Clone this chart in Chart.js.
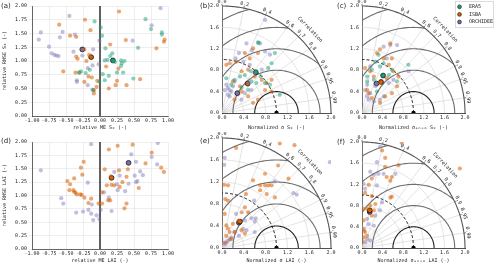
<!DOCTYPE html>
<html>
<head>
<meta charset="utf-8">
<script src="https://cdn.jsdelivr.net/npm/chart.js@4.4.1/dist/chart.umd.min.js"></script>
<style>
  body { margin: 0; background: #fff; width: 500px; height: 267px; position: relative; overflow: hidden; }
  canvas { position: absolute; }
  .lab { position: absolute; font: 7px/7px "DejaVu Sans", sans-serif; color: #222; }
</style>
</head>
<body>
<canvas id="ca" width="182" height="134" style="left:0;top:0"></canvas>
<canvas id="cd" width="182" height="135" style="left:0;top:132px"></canvas>
<canvas id="cb" width="172" height="134" style="left:165px;top:0"></canvas>
<canvas id="ce" width="172" height="135" style="left:165px;top:132px"></canvas>
<canvas id="cc" width="170" height="134" style="left:330px;top:0"></canvas>
<canvas id="cf" width="170" height="135" style="left:330px;top:132px"></canvas>
<div class="lab" style="left:1px;top:3px">(a)</div>
<div class="lab" style="left:200px;top:3px">(b)</div>
<div class="lab" style="left:337px;top:3px">(c)</div>
<div class="lab" style="left:1px;top:138px">(d)</div>
<div class="lab" style="left:200px;top:138px">(e)</div>
<div class="lab" style="left:337px;top:139px">(f)</div>
<script>
// ---- data: [x, y] pairs ----
const models = ['ERA5', 'ISBA', 'ORCHIDEE'];

// (a) relative ME / relative RMSE, S0
const aEra5 = [[-0.08,1.72],[0.01,1.61],[0.03,1.46],[0.08,1.23],[0.18,1.14],[0.11,1.02],[0.15,1.09],[0.20,1.00],[0.22,0.98],[0.31,1.01],[0.32,0.96],[0.36,1.00],[0.31,0.91],[0.34,0.79],[0.25,0.79],[0.13,0.73],[0.04,0.76],[0.07,0.65],[-0.01,0.62],[-0.21,0.78],[-0.28,0.81],[-0.31,0.79],[-0.15,0.84],[-0.10,0.47],[0.49,0.68],[0.56,1.24],[0.67,1.76],[0.75,1.58],[0.91,1.52],[0.91,1.48],[0.07,1.01]];
const aIsba = [[-0.60,1.66],[-0.44,1.46],[-0.35,1.44],[-0.22,1.75],[-0.14,1.56],[-0.23,1.21],[-0.35,1.08],[-0.33,1.04],[-0.16,1.11],[-0.20,1.00],[-0.54,0.81],[-0.36,0.79],[-0.30,0.79],[-0.23,0.62],[-0.17,0.72],[-0.12,0.70],[-0.04,0.64],[-0.05,0.53],[-0.09,0.47],[-0.09,0.41],[0.28,1.90],[0.15,1.30],[0.38,1.38],[0.09,0.90],[0.27,0.86],[0.25,0.64],[0.23,0.56],[0.39,0.56],[0.59,0.67],[0.95,1.39],[0.94,1.35],[0.83,1.23],[0.13,0.50]];
const aOrch = [[-0.45,1.82],[-0.90,1.39],[-0.87,1.52],[-0.55,1.53],[-0.59,1.43],[-0.37,1.48],[-0.75,1.26],[-0.71,1.14],[-0.67,1.11],[-0.64,1.10],[-0.61,1.09],[-0.39,1.17],[-0.26,1.10],[-0.10,1.21],[-0.01,1.37],[-0.02,0.94],[-0.11,0.92],[-0.34,0.65],[-0.34,0.62],[-0.18,0.56],[-0.11,0.48],[-0.18,0.87],[0.48,1.37],[0.89,1.96],[0.76,1.65]];
const aMean = [[0.19,1.01],[-0.13,1.07],[-0.26,1.21]];

// (d) relative ME / relative RMSE, LAI
const dIsba = [[-0.48,1.27],[-0.44,1.21],[-0.45,1.10],[-0.39,1.10],[-0.38,1.07],[-0.36,1.05],[-0.34,1.02],[-0.38,1.32],[-0.29,1.02],[-0.27,1.01],[-0.23,0.96],[-0.28,1.52],[-0.24,1.63],[-0.26,1.39],[-0.17,0.86],[-0.13,0.94],[-0.02,0.85],[0.03,1.06],[0.03,0.85],[0.07,1.49],[0.12,0.91],[0.13,1.86],[0.15,0.91],[0.16,1.36],[0.17,1.20],[0.21,1.19],[0.10,1.19],[0.26,1.93],[0.29,1.16],[0.28,1.47],[0.33,1.25],[0.36,0.76],[0.39,0.85],[0.41,1.49],[0.39,1.35],[0.48,1.95],[0.57,1.14],[0.67,1.60],[0.76,1.80],[0.90,1.52],[0.94,1.44]];
const dOrch = [[-0.87,1.47],[-0.57,0.95],[-0.54,0.85],[-0.35,0.68],[-0.25,0.70],[-0.18,1.24],[-0.17,0.73],[-0.13,0.66],[-0.12,0.83],[-0.10,0.54],[-0.05,0.63],[-0.01,0.56],[0.01,0.73],[-0.13,1.96],[0.06,1.06],[0.13,0.96],[0.17,0.71],[0.21,1.44],[0.25,1.21],[0.26,1.10],[0.29,1.37],[0.37,1.08],[0.42,1.22],[0.46,1.77],[0.53,1.63],[0.51,1.37],[0.53,1.25],[0.55,1.27],[0.59,1.45],[0.63,1.38],[0.76,1.72],[0.85,1.98],[0.84,1.58]];
const dMean = [null,[0.17,1.33],[0.42,1.61]];

// (b) Taylor, S0 (x, y in normalized std units)
const bEra5 = [[0.66,1.32],[0.67,1.31],[0.85,0.84],[0.91,0.93],[0.97,1.12],[0.63,0.78],[0.71,0.68],[0.53,0.78],[0.23,0.62],[0.33,0.68],[0.42,0.71],[0.17,0.53],[0.54,0.59],[0.63,0.56],[0.79,0.56],[0.88,0.53],[1.06,0.34],[0.48,0.43],[0.36,0.47],[0.08,0.65]];
const bIsba = [[0.08,0.90],[0.14,0.93],[0.26,0.96],[0.42,1.12],[0.57,1.21],[0.51,1.02],[0.66,1.12],[0.60,0.68],[0.73,0.62],[0.82,0.56],[0.91,0.62],[0.48,0.81],[0.36,0.78],[0.33,0.50],[0.36,0.40],[0.48,0.31],[0.57,0.19],[0.66,0.25],[0.23,0.25],[0.20,0.59],[0.91,0.40],[0.79,0.43]];
const bOrch = [[0.79,1.74],[0.45,1.30],[0.70,1.30],[0.79,1.15],[0.88,1.09],[0.55,1.17],[0.31,1.12],[0.25,1.02],[0.39,0.96],[0.51,0.90],[0.60,0.75],[0.73,0.81],[0.08,0.53],[0.11,0.47],[0.14,0.43],[0.17,0.40],[0.11,0.34],[0.20,0.50],[0.05,0.43],[0.14,0.31],[0.23,0.59],[0.36,0.25],[0.42,0.37],[0.54,0.43],[0.48,0.56]];
const bMean = [[0.62,0.76],[0.47,0.55],[0.28,0.37]];

// (c) Taylor, S0 anomalies
const cEra5 = [[0.32,1.09],[0.42,0.93],[0.35,0.87],[0.26,0.96],[0.19,0.81],[0.10,0.68],[0.23,0.62],[0.10,0.59],[0.58,0.81],[0.90,0.90],[0.52,0.71],[0.68,0.59],[0.29,0.40]];
const cIsba = [[0.55,1.30],[0.35,1.19],[0.29,1.12],[0.06,0.84],[0.16,0.78],[0.42,1.02],[0.58,1.02],[0.52,0.90],[0.71,0.68],[0.68,0.50],[0.58,0.37],[0.45,0.31],[0.35,0.19],[0.19,0.28],[0.10,0.43],[0.13,0.37],[0.35,0.56],[0.48,0.65],[0.61,0.78],[0.23,0.68]];
const cOrch = [[0.68,1.27],[0.55,1.27],[0.42,1.24],[0.48,1.02],[0.90,0.78],[0.16,0.87],[0.10,0.53],[0.06,0.43],[0.10,0.31],[0.13,0.25],[0.23,0.22],[0.35,0.25],[0.52,0.56],[0.61,0.62],[0.42,0.31],[0.16,0.37],[0.26,0.50]];
const cMean = [[0.41,0.70],[0.37,0.58],[0.28,0.55]];

// (e) Taylor, LAI
const eIsba = [[0.26,1.82],[1.06,1.90],[1.33,1.87],[0.04,1.15],[0.11,1.14],[0.06,0.89],[0.11,0.86],[0.44,0.98],[0.57,1.23],[0.70,1.14],[0.79,1.14],[0.70,1.05],[0.85,1.14],[0.91,1.14],[0.82,0.98],[0.97,0.92],[1.22,1.26],[0.79,1.35],[1.03,1.50],[0.42,0.74],[0.48,0.65],[0.36,0.65],[0.30,0.50],[0.20,0.44],[0.14,0.29],[0.08,0.22],[0.17,0.16],[0.23,0.29],[0.36,0.32],[0.42,0.26],[0.05,0.62],[0.08,0.41],[0.11,0.35],[0.05,0.10]];
const eOrch = [[0.05,1.64],[0.04,1.51],[0.97,1.21],[1.31,1.00],[1.37,0.97],[0.59,0.86],[0.54,0.54],[0.62,0.54],[0.60,0.48],[0.45,0.32],[0.39,0.35],[0.31,0.22],[0.17,0.19],[0.05,0.07],[0.08,0.10],[0.11,0.13],[0.14,0.16],[0.23,0.29],[0.60,0.29],[0.26,0.62],[0.42,0.50],[1.98,1.56]];
const eMean = [null,[0.33,0.48],[0.31,0.46]];

// (f) Taylor, LAI anomalies
const fIsba = [[0.39,1.84],[0.77,1.99],[0.45,1.70],[0.45,1.53],[0.71,1.56],[0.48,1.34],[0.58,1.34],[0.55,1.27],[0.19,1.31],[0.13,1.19],[0.06,1.04],[0.19,0.98],[0.58,0.97],[0.55,0.95],[1.90,1.50],[0.03,0.74],[0.10,0.74],[0.16,0.80],[0.26,0.83],[0.23,0.71],[0.19,0.61],[0.03,0.52],[0.03,0.36],[0.06,0.30],[0.03,0.20],[0.00,0.11],[0.10,0.23]];
const fOrch = [[0.35,1.91],[0.29,1.62],[0.16,1.44],[0.23,1.38],[0.32,1.40],[0.42,1.40],[0.65,1.40],[0.03,1.21],[0.06,1.12],[0.29,1.18],[0.39,0.86],[0.35,0.71],[0.26,0.61],[0.10,0.55],[0.13,0.45],[0.23,0.42],[0.03,0.33],[0.10,0.17],[0.06,0.11],[0.16,0.14]];
const fMean = [null,[0.15,0.71],[0.15,0.68]];

// Taylor grid values
const stdArcs = [0.4, 0.8, 1.2, 1.6];
const rmsArcs = [0.4, 0.8, 1.2, 1.6, 2.0];
const corrLabels = ['0.0', '0.2', '0.4', '0.6', '0.7', '0.8', '0.9', '0.95', '0.99'];
const refPoint = [[1, 0]];

const colors = ['27,158,119', '217,95,2', '117,112,179'];
const alphas = [0.5, 0.55, 0.45];

Chart.defaults.font.family = "'DejaVu Sans Mono', monospace";
Chart.defaults.font.size = 5;
Chart.defaults.color = '#222';
Chart.defaults.animation = false;

function pts(arr) { return arr.map(p => ({x: p[0], y: p[1]})); }

function buildSets(series, mean) {
  const sets = [];
  series.forEach((arr, i) => {
    if (!arr) return;
    sets.push({
      label: models[i], data: pts(arr), pointRadius: 2.1, borderWidth: 0,
      backgroundColor: `rgba(${colors[i]},${alphas[i]})`
    });
  });
  mean.forEach((p, i) => {
    if (!p) return;
    sets.push({
      label: models[i] + ' mean', data: pts([p]), pointRadius: 2.4, borderWidth: 0.8,
      borderColor: '#111', backgroundColor: `rgb(${colors[i]})`
    });
  });
  return sets;
}

const zeroLine = {
  id: 'zeroLine',
  beforeDatasetsDraw(chart) {
    const {ctx, chartArea, scales: {x}} = chart;
    const px = x.getPixelForValue(0);
    ctx.save();
    ctx.strokeStyle = '#222';
    ctx.lineWidth = 1.4;
    ctx.beginPath();
    ctx.moveTo(px, chartArea.top);
    ctx.lineTo(px, chartArea.bottom);
    ctx.stroke();
    ctx.restore();
  }
};

function scatterPanel(id, sets, xTitle, yTitle, top) {
  new Chart(document.getElementById(id), {
    type: 'scatter',
    data: {datasets: sets},
    options: {
      responsive: false, devicePixelRatio: 1,
      layout: {padding: {left: 0, top: top, right: 14, bottom: 0}},
      plugins: {legend: {display: false}, tooltip: {enabled: false}},
      scales: {
        x: {
          min: -1, max: 1,
          afterFit: s => { s.height = 18; },
          ticks: {stepSize: 0.25, autoSkip: false, maxRotation: 0, padding: 0, callback: v => v.toFixed(2)},
          grid: {color: '#e3e3e3', lineWidth: 0.6, tickLength: 2},
          border: {color: '#444', width: 0.8},
          title: {display: true, text: xTitle, padding: {top: 0, bottom: 3}}
        },
        y: {
          min: 0, max: 2,
          afterFit: s => { s.width = 32; },
          ticks: {stepSize: 0.25, autoSkip: false, padding: 2, callback: v => v.toFixed(2)},
          grid: {color: '#e3e3e3', lineWidth: 0.6, tickLength: 3},
          border: {color: '#444', width: 0.8},
          title: {display: true, text: yTitle, padding: {top: 2, bottom: 0}}
        }
      }
    },
    plugins: [zeroLine]
  });
}

const taylorGrid = {
  id: 'taylorGrid',
  beforeDatasetsDraw(chart) {
    const {ctx, scales: {x, y}} = chart;
    const P = (u, v) => [x.getPixelForValue(u), y.getPixelForValue(v)];
    const arc = (cx, r, a0, a1) => {
      ctx.beginPath();
      for (let i = 0; i <= 120; i++) {
        const a = a0 + (a1 - a0) * i / 120;
        const p = P(cx + r * Math.cos(a), r * Math.sin(a));
        if (i) ctx.lineTo(p[0], p[1]); else ctx.moveTo(p[0], p[1]);
      }
      ctx.stroke();
    };
    ctx.save();
    // clip to the quarter circle
    ctx.beginPath();
    const o = P(0, 0);
    ctx.moveTo(o[0], o[1]);
    for (let i = 0; i <= 120; i++) {
      const a = Math.PI / 2 * i / 120;
      const p = P(2 * Math.cos(a), 2 * Math.sin(a));
      ctx.lineTo(p[0], p[1]);
    }
    ctx.closePath();
    ctx.clip();

    ctx.strokeStyle = '#d0d0d0';
    ctx.lineWidth = 0.6;
    stdArcs.forEach(r => arc(0, r, 0, Math.PI / 2));
    corrLabels.forEach(t => {
      const c = parseFloat(t);
      const e = P(2 * c, 2 * Math.sqrt(1 - c * c));
      ctx.beginPath(); ctx.moveTo(o[0], o[1]); ctx.lineTo(e[0], e[1]); ctx.stroke();
    });

    rmsArcs.forEach((r, i) => {
      ctx.strokeStyle = i === 0 ? '#222' : '#6e6e6e';
      ctx.lineWidth = 1.1;
      arc(1, r, 0, Math.PI);
    });

    ctx.strokeStyle = '#111';
    ctx.lineWidth = 1;
    ctx.setLineDash([3, 2]);
    arc(0, 1, 0, Math.PI / 2);
    ctx.restore();

    // outer arc
    ctx.save();
    ctx.strokeStyle = '#555';
    ctx.lineWidth = 1.1;
    arc(0, 2, 0, Math.PI / 2);

    // correlation labels
    ctx.fillStyle = '#222';
    ctx.font = "5px 'DejaVu Sans Mono', monospace";
    ctx.textAlign = 'center';
    ctx.textBaseline = 'bottom';
    ctx.lineWidth = 0.7;
    corrLabels.forEach(t => {
      const c = parseFloat(t);
      const th = Math.acos(c);
      const p = P(2.03 * Math.cos(th), 2.03 * Math.sin(th));
      const q = P(2.0 * Math.cos(th), 2.0 * Math.sin(th));
      const q2 = P(2.04 * Math.cos(th), 2.04 * Math.sin(th));
      ctx.beginPath(); ctx.moveTo(q[0], q[1]); ctx.lineTo(q2[0], q2[1]); ctx.stroke();
      ctx.save();
      ctx.translate(p[0], p[1]);
      ctx.rotate(Math.PI / 2 - th);
      ctx.fillText(t, 0, 0);
      ctx.restore();
    });
    const th = 44 * Math.PI / 180;
    const p = P(2.2 * Math.cos(th), 2.2 * Math.sin(th));
    ctx.save();
    ctx.translate(p[0], p[1]);
    ctx.rotate(Math.PI / 2 - th);
    ctx.fillText('Correlation', 0, 0);
    ctx.restore();
    ctx.restore();
  }
};

const legendBox = {
  id: 'legendBox',
  afterDraw(chart) {
    const ctx = chart.ctx;
    ctx.save();
    ctx.fillStyle = '#fff';
    ctx.strokeStyle = '#ccc';
    ctx.lineWidth = 0.7;
    ctx.fillRect(125.5, 1.5, 38, 26);
    ctx.strokeRect(125.5, 1.5, 38, 26);
    ctx.font = "5px 'DejaVu Sans Mono', monospace";
    ctx.textBaseline = 'middle';
    models.forEach((m, i) => {
      const yy = 6.8 + i * 7.6;
      ctx.beginPath();
      ctx.arc(129.5, yy, 1.9, 0, Math.PI * 2);
      ctx.fillStyle = `rgb(${colors[i]})`;
      ctx.fill();
      ctx.strokeStyle = '#111';
      ctx.lineWidth = 0.6;
      ctx.stroke();
      ctx.fillStyle = '#222';
      ctx.fillText(m, 139, yy);
    });
    ctx.restore();
  }
};

function taylorPanel(id, sets, xTitle, pad, xh) {
  sets.unshift({
    label: 'reference', data: pts(refPoint), pointRadius: 2.2, borderWidth: 0,
    backgroundColor: '#000'
  });
  const extra = id === 'cc' ? [taylorGrid, legendBox] : [taylorGrid];
  new Chart(document.getElementById(id), {
    type: 'scatter',
    data: {datasets: sets},
    options: {
      responsive: false, devicePixelRatio: 1,
      layout: {padding: pad},
      plugins: {legend: {display: false}, tooltip: {enabled: false}},
      scales: {
        x: {
          min: 0, max: 2,
          afterFit: s => { s.height = xh; },
          ticks: {stepSize: 0.4, autoSkip: false, maxRotation: 0, padding: 0, callback: v => v.toFixed(1)},
          grid: {display: false, tickLength: 2},
          border: {color: '#222', width: 0.8},
          title: {display: true, text: xTitle, padding: {top: 0, bottom: 3}}
        },
        y: {
          min: 0, max: 2,
          afterFit: s => { s.width = 14; },
          ticks: {stepSize: 0.4, autoSkip: false, padding: 1, callback: v => v.toFixed(1)},
          grid: {display: false, tickLength: 2},
          border: {color: '#222', width: 0.8}
        }
      }
    },
    plugins: extra
  });
}

scatterPanel('ca', buildSets([aEra5, aIsba, aOrch], aMean), 'relative ME S\u2080 (-)', 'relative RMSE S\u2080 (-)', 6);
scatterPanel('cd', buildSets([null, dIsba, dOrch], dMean), 'relative ME LAI (-)', 'relative RMSE LAI (-)', 10);

taylorPanel('cb', buildSets([bEra5, bIsba, bOrch], bMean), 'Normalized \u03c3 S\u2080 (-)', {left: 43, top: 6, right: 6, bottom: 0}, 21);
taylorPanel('cc', buildSets([cEra5, cIsba, cOrch], cMean), 'Normalized \u03c3\u2090\u2099\u2092\u2098 S\u2080 (-)', {left: 18, top: 6, right: 35, bottom: 0}, 21);
taylorPanel('ce', buildSets([null, eIsba, eOrch], eMean), 'Normalized \u03c3 LAI (-)', {left: 43, top: 6, right: 6, bottom: 0}, 19);
taylorPanel('cf', buildSets([null, fIsba, fOrch], fMean), 'Normalized \u03c3\u2090\u2099\u2092\u2098 LAI (-)', {left: 18, top: 10, right: 35, bottom: 0}, 19);
</script>
</body>
</html>
